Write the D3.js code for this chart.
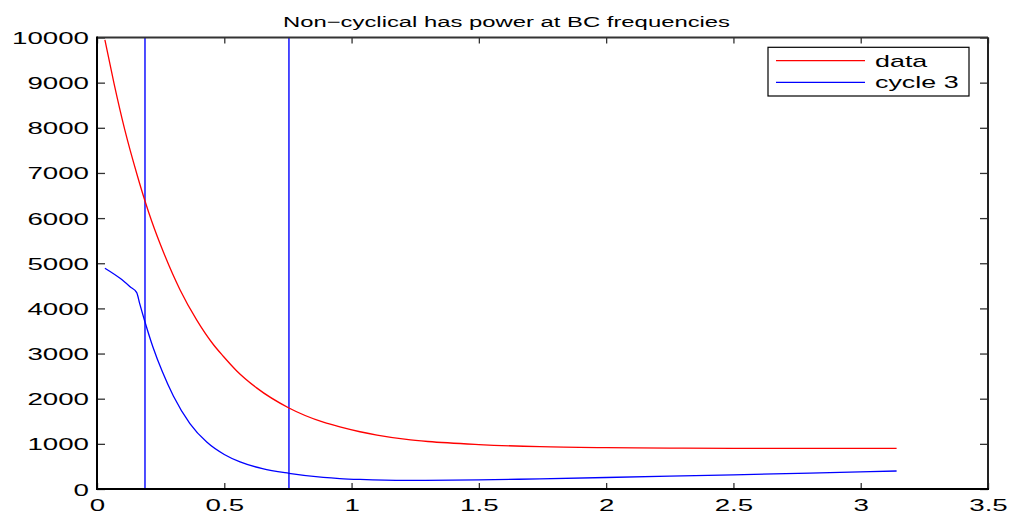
<!DOCTYPE html>
<html>
<head>
<meta charset="utf-8">
<script src="https://cdn.jsdelivr.net/npm/d3@7"></script>
<style>
  html, body { margin: 0; padding: 0; background: #fff; }
  svg { display: block; font-family: "Liberation Sans", Arial, Helvetica, sans-serif; }
</style>
</head>
<body>
<script>
// ---- data ----
const titleText = "Non\u2212cyclical has power at BC frequencies";
const seriesNames = ["data", "cycle 3"];

const dataFreq = [0.031, 0.067, 0.109, 0.158, 0.1885, 0.215, 0.260, 0.326, 0.392, 0.457, 0.496, 0.549, 0.627, 0.754, 0.889, 0.954, 1.033, 1.10, 1.216, 1.30, 1.50, 1.740, 2.0, 2.25, 2.5, 2.8, 3.141];
const dataPower = [9950, 8980, 7960, 6950, 6380, 5930, 5260, 4415, 3740, 3200, 2940, 2615, 2240, 1795, 1480, 1375, 1268, 1192, 1097, 1052, 985, 937, 915, 905, 901, 899, 898];

const cycleFreq = [0.031, 0.092, 0.130, 0.156, 0.168, 0.1885, 0.22, 0.2565, 0.300, 0.365, 0.431, 0.50, 0.562, 0.65, 0.754, 0.889, 0.954, 1.033, 1.216, 1.498, 1.740, 2.0, 2.25, 2.5, 2.8, 3.141];
const cyclePower = [4890, 4660, 4480, 4350, 4100, 3700, 3140, 2600, 2060, 1450, 1040, 765, 600, 450, 348, 258, 232, 212, 190, 200, 226, 255, 284, 314, 352, 399];

const bandLines = [0.1885, 0.754];

const xTicks = [0, 0.5, 1, 1.5, 2, 2.5, 3, 3.5];
const xTickLabels = ["0", "0.5", "1", "1.5", "2", "2.5", "3", "3.5"];
const yTicks = [0, 1000, 2000, 3000, 4000, 5000, 6000, 7000, 8000, 9000, 10000];
const yTickLabels = ["0", "1000", "2000", "3000", "4000", "5000", "6000", "7000", "8000", "9000", "10000"];

// ---- layout ----
const W = 1011, H = 517;
const L = 97, R = 988, T = 37.5, B = 489;
const SX = 1.7; // horizontal text stretch

const svg = d3.select("body").append("svg").attr("width", W).attr("height", H);

const x = d3.scaleLinear().domain([0, 3.5]).range([L, R]);
const y = d3.scaleLinear().domain([0, 10000]).range([B, T]);

// axes
function styleTicks(g) {
  g.select(".domain").remove();
  g.selectAll(".tick line").attr("stroke", "#333").attr("stroke-width", 1.3);
}

const gb = svg.append("g").attr("transform", `translate(0,${B})`)
  .call(d3.axisBottom(x).tickValues(xTicks).tickFormat((d, i) => xTickLabels[i]).tickSizeInner(-6).tickSizeOuter(0));
styleTicks(gb);
gb.selectAll(".tick text")
  .attr("y", null).attr("dy", null)
  .attr("transform", `translate(0,21.5) scale(${SX},1)`)
  .attr("fill", "#000").attr("font-size", 16.3).attr("font-family", "Liberation Sans, Arial, sans-serif");

const gt = svg.append("g").attr("transform", `translate(0,${T})`)
  .call(d3.axisTop(x).tickValues(xTicks).tickFormat("").tickSizeInner(-6).tickSizeOuter(0));
styleTicks(gt);

const gl = svg.append("g").attr("transform", `translate(${L},0)`)
  .call(d3.axisLeft(y).tickValues(yTicks).tickFormat((d, i) => yTickLabels[i]).tickSizeInner(-8).tickSizeOuter(0));
styleTicks(gl);
gl.selectAll(".tick text")
  .attr("x", null).attr("dy", null)
  .attr("text-anchor", "end")
  .attr("transform", `translate(-8,6) scale(${SX},1)`)
  .attr("fill", "#000").attr("font-size", 16.3).attr("font-family", "Liberation Sans, Arial, sans-serif");

const gr = svg.append("g").attr("transform", `translate(${R},0)`)
  .call(d3.axisRight(y).tickValues(yTicks).tickFormat("").tickSizeInner(-8).tickSizeOuter(0));
styleTicks(gr);

// band lines
svg.append("g").selectAll("line").data(bandLines).join("line")
  .attr("x1", d => x(d)).attr("x2", d => x(d))
  .attr("y1", y(0)).attr("y2", y(10000))
  .attr("stroke", "#0000ff").attr("stroke-width", 1.4);

// curves
const line = d3.line().x(d => x(d[0])).y(d => y(d[1])).curve(d3.curveMonotoneX);
svg.append("path").datum(dataFreq.map((f, i) => [f, dataPower[i]]))
  .attr("d", line).attr("fill", "none").attr("stroke", "#ff0000").attr("stroke-width", 1.3);
svg.append("path").datum(cycleFreq.map((f, i) => [f, cyclePower[i]]))
  .attr("d", line).attr("fill", "none").attr("stroke", "#0000ff").attr("stroke-width", 1.3);

// frame
svg.append("line").attr("x1", L).attr("x2", R).attr("y1", T).attr("y2", T).attr("stroke", "#333").attr("stroke-width", 2);
svg.append("line").attr("x1", R).attr("x2", R).attr("y1", T).attr("y2", B).attr("stroke", "#222").attr("stroke-width", 2);
svg.append("line").attr("x1", L).attr("x2", L).attr("y1", T - 1).attr("y2", B + 1).attr("stroke", "#000").attr("stroke-width", 2);
svg.append("line").attr("x1", L - 1).attr("x2", R + 1).attr("y1", B).attr("y2", B).attr("stroke", "#000").attr("stroke-width", 2);

// title
svg.append("text")
  .attr("transform", `translate(506.5,27) scale(1.59,1)`)
  .attr("text-anchor", "middle").attr("font-size", 15).attr("fill", "#000")
  .text(titleText);

// legend
const lg = svg.append("g");
lg.append("rect").attr("x", 768).attr("y", 47.3).attr("width", 201).attr("height", 48.7)
  .attr("fill", "#fff").attr("stroke", "#000").attr("stroke-width", 1.2);
const legColors = ["#ff0000", "#0000ff"];
const legY = [60.7, 82.3];
seriesNames.forEach((name, i) => {
  lg.append("line").attr("x1", 776).attr("x2", 865).attr("y1", legY[i]).attr("y2", legY[i])
    .attr("stroke", legColors[i]).attr("stroke-width", 1.2);
  lg.append("text").attr("transform", `translate(875,${legY[i] + 6}) scale(1.68,1)`)
    .attr("font-size", 16).attr("fill", "#000").text(name);
});
</script>
</body>
</html>
